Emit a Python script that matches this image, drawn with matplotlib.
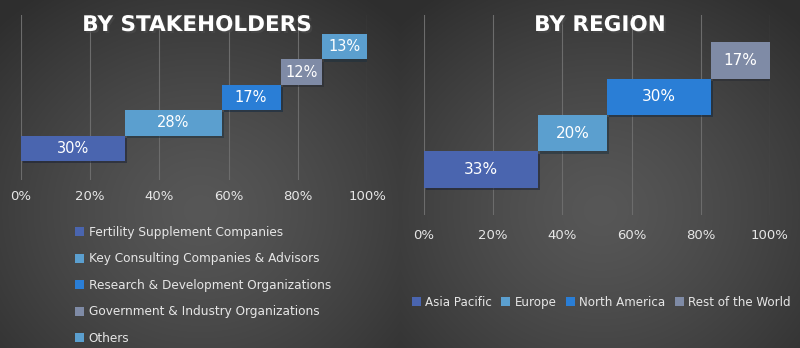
import numpy as np
import matplotlib
matplotlib.use("Agg")
import matplotlib.pyplot as plt
import matplotlib.patheffects as pe
from matplotlib.patches import Patch

# data
stake_labels = ["Fertility Supplement Companies", "Key Consulting Companies & Advisors",
                "Research & Development Organizations", "Government & Industry Organizations",
                "Others"]
stake_values = [30, 28, 17, 12, 13]
stake_colors = ["#4a65af", "#5b9fcf", "#2a7ed6", "#7f8ba6", "#5b9fcf"]

region_labels = ["Asia Pacific", "Europe", "North America", "Rest of the World"]
region_values = [33, 20, 30, 17]
region_colors = ["#4a65af", "#5b9fcf", "#2a7ed6", "#7f8ba6"]

tick_vals = [0, 20, 40, 60, 80, 100]
tick_text = ["0%", "20%", "40%", "60%", "80%", "100%"]

W, H = 800, 348
FONT = "DejaVu Sans"
plt.rcParams['font.family'] = [FONT]

fig = plt.figure(figsize=(W / 100, H / 100), dpi=100)

# dark radial background, one glow per panel
yy, xx = np.mgrid[0:H, 0:W]
bg = np.zeros((H, W))
for cx in (200, 600):
    mask = (xx >= cx - 200) & (xx < cx + 200)
    d = np.hypot(xx - cx, (yy - 210) * 1.1) / 290.0
    val = 0x57 - (0x57 - 0x2e) * np.clip(d, 0, 1) ** 1.3
    bg[mask] = val[mask]
bg_ax = fig.add_axes([0, 0, 1, 1])
bg_ax.imshow(np.dstack([bg, bg, bg]) / 255.0, aspect="auto", extent=[0, W, H, 0])
bg_ax.axis("off")


def px_axes(x0, x1, y0, y1):
    return fig.add_axes([x0 / W, (H - y1) / H, (x1 - x0) / W, (y1 - y0) / H])


def waterfall(ax, values, colors, ylim, label_size, pad):
    lefts = np.concatenate([[0], np.cumsum(values)[:-1]])
    pos = np.arange(len(values))
    bars = ax.barh(pos, values, left=lefts, height=1.0, color=colors, zorder=3)
    for b in bars:
        b.set_path_effects([pe.SimplePatchShadow(offset=(1.5, -1.5), alpha=0.5), pe.Normal()])
    for p, l, v in zip(pos, lefts, values):
        ax.text(l + v / 2, p, f"{v}%", ha="center", va="center", color="white",
                fontsize=label_size, zorder=4)
    ax.set_xlim(0, 100)
    ax.set_ylim(*ylim)
    ax.set_facecolor("none")
    ax.set_xticks(tick_vals)
    ax.set_xticklabels(tick_text)
    ax.set_yticks([])
    ax.tick_params(axis="x", length=0, colors="#e6e6e6", labelsize=9.5, pad=pad)
    ax.grid(axis="x", color="#6c6c6c", linewidth=0.8, zorder=0)
    for s in ax.spines.values():
        s.set_visible(False)


ax1 = px_axes(21, 367, 15, 180)
waterfall(ax1, stake_values, stake_colors, (-1.25, 5.25), 10.5, 7)

ax2 = px_axes(424, 770, 15, 215)
waterfall(ax2, region_values, region_colors, (-1.24, 4.24), 11, 10)

shadow = [pe.withSimplePatchShadow(offset=(1.5, -1.5), alpha=0.6)]
fig.text(197 / W, 1 - 25 / H, "BY STAKEHOLDERS", ha="center", va="center",
         color="white", fontsize=15.5, fontweight="bold", path_effects=shadow)
fig.text(600 / W, 1 - 25 / H, "BY REGION", ha="center", va="center",
         color="white", fontsize=15.5, fontweight="bold", path_effects=shadow)

h1 = [Patch(facecolor=c, edgecolor="none") for c in stake_colors]
leg1 = fig.legend(h1, stake_labels, loc="upper left", bbox_to_anchor=(70 / W, 1 - 221 / H),
                  frameon=False, fontsize=8.7, labelcolor="#e6e6e6", handlelength=0.75,
                  handleheight=0.75, handletextpad=0.4, labelspacing=1.12, borderaxespad=0)

h2 = [Patch(facecolor=c, edgecolor="none") for c in region_colors]
leg2 = fig.legend(h2, region_labels, loc="upper left", bbox_to_anchor=(407 / W, 1 - 291 / H),
                  ncol=4, frameon=False, fontsize=8.6, labelcolor="#e6e6e6", handlelength=0.75,
                  handleheight=0.75, handletextpad=0.35, columnspacing=0.8, borderaxespad=0)

fig.savefig("out.png", dpi=100)
